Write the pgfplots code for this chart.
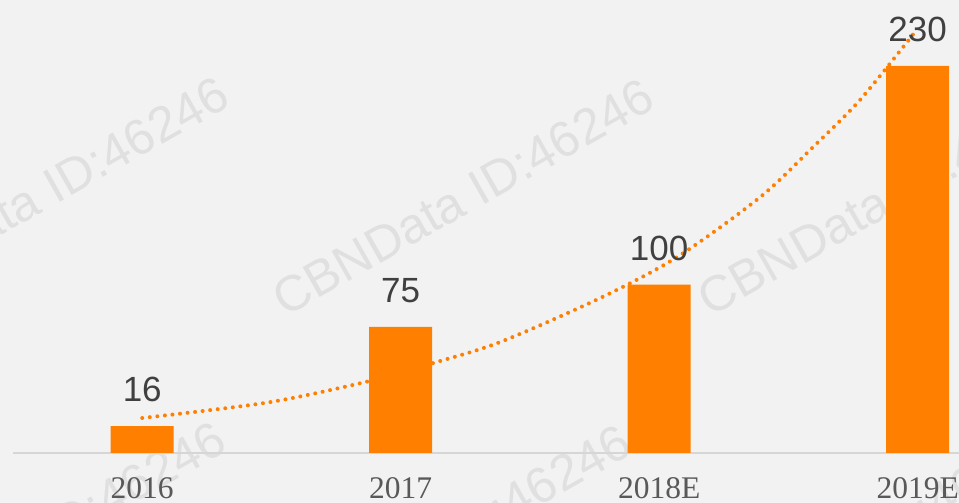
\documentclass[border=0pt]{standalone}
\usepackage{pgfplots}
\pgfplotsset{compat=1.18}
\usepackage{fontspec}
\setmainfont{Liberation Serif}
\newfontfamily\arialfont{Liberation Sans}
\definecolor{bgcol}{HTML}{F2F2F2}
\definecolor{barorange}{HTML}{FF7F00}
\definecolor{labelcol}{HTML}{404040}
\definecolor{tickcol}{HTML}{595959}
\definecolor{basecol}{HTML}{D6D6D6}
\definecolor{wmcol}{HTML}{E0E0E0}
\begin{document}
\begin{tikzpicture}[x=1bp,y=1bp]
\fill[bgcol] (0,0) rectangle (959,503);
\begin{scope}
\clip (0,0) rectangle (959,503);
\foreach \cx/\cy in {38/308, 463/306, 888/306, 35/-37, 440/-40, 865/-40}{
  \node[rotate=29.5, text=wmcol, font=\arialfont\fontsize{50bp}{56bp}\selectfont, inner sep=0pt] at (\cx,\cy) {CBNData ID:46246};
}
\end{scope}
\begin{axis}[
  at={(13bp,50bp)}, anchor=south west,
  scale only axis,
  width=946bp, height=453bp,
  xmin=-0.5, xmax=3.16,
  ymin=0, ymax=269.2,
  axis y line=none,
  axis x line*=bottom,
  x axis line style={draw=basecol, line width=1.2bp, -},
  xtick={0,1,2,3},
  xticklabels={2016,2017,2018E,2019E},
  major tick length=0pt,
  ytick=\empty,
  xticklabel style={font=\fontsize{31.5bp}{36bp}\selectfont, text=tickcol, anchor=north, inner sep=0pt, yshift=-24bp},
  clip=false,
]
\addplot[ybar, bar width=63bp, fill=barorange, draw=none,
  point meta=explicit symbolic,
  nodes near coords,
  nodes near coords style={font=\arialfont\fontsize{35bp}{40bp}\selectfont, text=labelcol, anchor=south, inner sep=0pt, yshift=24bp}]
  coordinates {(0,16)[16] (1,75)[75] (2,100)[100] (3,230)[230]};
\addplot[smooth, draw=barorange, line width=4bp, line cap=round, dash pattern=on 0bp off 7.6bp]
  coordinates {(0,20.8) (0.485,30) (0.864,42.2) (1.127,53.5) (1.386,66.0) (1.772,92.1) (2.070,116.5) (2.391,152.1) (2.596,181.9) (2.777,209.8) (2.99,250.2)};
\end{axis}
\pgfresetboundingbox
\useasboundingbox (0,0) rectangle (959,503);
\end{tikzpicture}
\end{document}
